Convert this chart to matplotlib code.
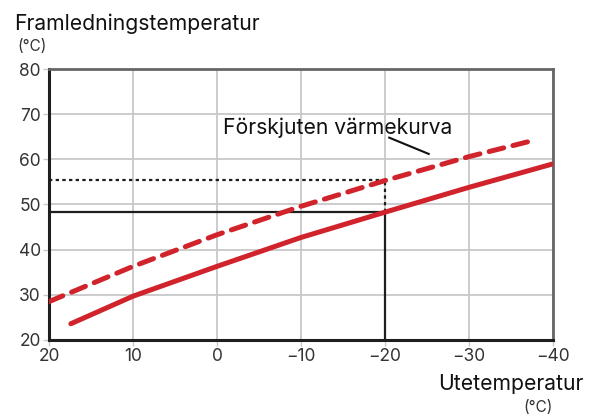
import matplotlib
matplotlib.use("Agg")
import matplotlib.pyplot as plt

plt.rcParams['font.family'] = ['Inter', 'DejaVu Sans']

# Data
curve_x = [17.4, 10, 0, -10, -20, -30, -40]
curve_y = [23.6, 29.7, 36.3, 42.7, 48.3, 53.8, 59.0]
shift_x = [20, 10, 0, -10, -20, -30, -37.9]
shift_y = [28.5, 36.3, 43.3, 49.6, 55.3, 60.6, 64.3]
sel_x = -20
sel_y = 48.3
shift_sel_y = 55.4
x_ticks = [20, 10, 0, -10, -20, -30, -40]
x_tick_labels = ["20", "10", "0", "\u221210", "\u221220", "\u221230", "\u221240"]
y_ticks = [20, 30, 40, 50, 60, 70, 80]
annot_text = "Förskjuten värmekurva"
annot_text_pos = (-14.4, 66.9)
annot_line_x = [-20.5, -25.2]
annot_line_y = [64.8, 61.2]

red = "#d0232b"

fig = plt.figure(figsize=(5.95, 4.16), dpi=100)
ax = fig.add_axes([49/595, 1-340/416, (553-49)/595, (340-69)/416])
ax.set_xlim(20, -40)
ax.set_ylim(20, 80)

ax.set_xticks(x_ticks)
ax.set_xticklabels(x_tick_labels)
ax.set_yticks(y_ticks)
ax.grid(True, color="#c8c8c8", linewidth=1.3, zorder=0)
ax.tick_params(axis='both', length=4, width=1, color="#c8c8c8",
               labelsize=12.5, labelcolor="#333333", pad=2)

for side in ['left', 'bottom']:
    ax.spines[side].set_color("#1e1e1e")
    ax.spines[side].set_linewidth(2.2)
for side in ['top', 'right']:
    ax.spines[side].set_color("#666666")
    ax.spines[side].set_linewidth(2.0)

# Reference lines
ax.plot([20, sel_x], [sel_y, sel_y], color="#1e1e1e", lw=1.6, zorder=3)
ax.plot([sel_x, sel_x], [20, sel_y], color="#1e1e1e", lw=1.6, zorder=3)
ax.plot([20, sel_x], [shift_sel_y, shift_sel_y], color="#1e1e1e", lw=1.6,
        dashes=(1.5, 1.5), zorder=3)
ax.plot([sel_x, sel_x], [sel_y, shift_sel_y], color="#1e1e1e", lw=1.6,
        dashes=(1.5, 1.5), zorder=3)

# Curves
ax.plot(curve_x, curve_y, color=red, lw=3.6, solid_capstyle='round',
        solid_joinstyle='round', zorder=4)
ax.plot(shift_x, shift_y, color=red, lw=3.6, dashes=(3.0, 1.9),
        dash_capstyle='round', zorder=4)

# Annotation
ax.text(annot_text_pos[0], annot_text_pos[1], annot_text, fontsize=15.2,
        ha='center', va='center', color="#111111", zorder=5)
ax.plot(annot_line_x, annot_line_y, color="#111111", lw=1.5, zorder=5)

# Axis titles
fig.text(14/595, 1-30/416, "Framledningstemperatur", fontsize=15.2,
         ha='left', va='baseline', color="#111111")
fig.text(17/595, 1-46.5/416, "(°C)", fontsize=11, ha='left', va='center',
         color="#333333")
fig.text(583/595, 1-390/416, "Utetemperatur", fontsize=15.2, ha='right',
         va='baseline', color="#111111")
fig.text(538/595, 1-407.5/416, "(°C)", fontsize=11, ha='center',
         va='center', color="#333333")

fig.savefig("out.png", dpi=100)
